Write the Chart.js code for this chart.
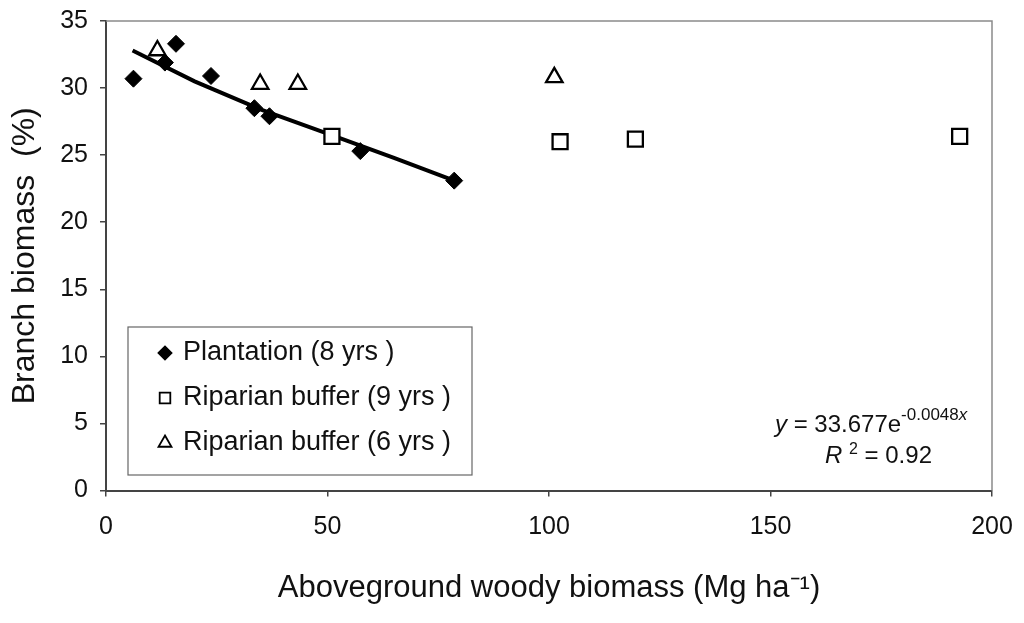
<!DOCTYPE html>
<html><head><meta charset="utf-8">
<script src="https://cdn.jsdelivr.net/npm/chart.js@4.4.0/dist/chart.umd.min.js"></script>
<style>
html,body{margin:0;padding:0;background:#fff;}
#wrap{position:relative;width:1024px;height:623px;overflow:hidden;}
canvas{display:block;}
.eq{position:absolute;font-family:"Liberation Sans",Arial,sans-serif;color:#111;white-space:nowrap;font-size:24px;line-height:24px;}
.eq sup{line-height:0;}
</style></head><body>
<div id="wrap"><canvas id="c" width="1024" height="623"></canvas>
<div class="eq" style="left:775px;top:412px;"><i>y</i> = 33.677e<sup style="font-size:17px;vertical-align:12px;">-0.0048<i>x</i></sup></div>
<div class="eq" style="left:825px;top:443px;"><i>R</i> <sup style="font-size:16px;vertical-align:9px;">2</sup> = 0.92</div>
</div>
<script>
// ---- data ----
const plantationX = [6.2, 13.3, 15.8, 23.7, 33.5, 36.9, 57.4, 78.6];
const plantationY = [30.7, 31.9, 33.3, 30.9, 28.5, 27.9, 25.3, 23.1];
const buffer9X = [51.0, 102.5, 119.5, 192.7];
const buffer9Y = [26.4, 26.0, 26.2, 26.4];
const buffer6X = [11.6, 34.8, 43.3, 101.2];
const buffer6Y = [32.8, 30.3, 30.3, 30.8];
const trendX = [6, 20, 35, 50, 65, 78.6];
const trendY = [32.8, 30.5, 28.4, 26.6, 24.8, 23.1];
const xTickValues = [0, 50, 100, 150, 200];
const yTickValues = [0, 5, 10, 15, 20, 25, 30, 35];
const seriesLabels = ['Plantation (8 yrs )', 'Riparian buffer (9 yrs )', 'Riparian buffer (6 yrs )'];
const xTitle = 'Aboveground woody biomass (Mg ha\u207B\u00B9)';
const yTitle = 'Branch biomass  (%)';

const pts = (xs, ys) => xs.map((x, i) => ({x: x, y: ys[i]}));
const FONT = "'Liberation Sans', Arial, sans-serif";

const frameAndLegend = {
  id: 'frameAndLegend',
  afterDraw(chart) {
    const {ctx, chartArea: a} = chart;
    ctx.save();
    ctx.strokeStyle = '#8a8a8a';
    ctx.lineWidth = 1.5;
    ctx.beginPath();
    ctx.moveTo(a.left, a.top);
    ctx.lineTo(a.right, a.top);
    ctx.lineTo(a.right, a.bottom);
    ctx.stroke();
    const bx = 128, by = 327, bw = 344, bh = 148;
    ctx.fillStyle = '#fff';
    ctx.fillRect(bx, by, bw, bh);
    ctx.strokeStyle = '#666';
    ctx.lineWidth = 1.2;
    ctx.strokeRect(bx, by, bw, bh);
    const rows = [353, 398, 443];
    const legendRadius = [6.5, 7.5, 7.5];
    chart.data.datasets.forEach((ds, i) => {
      if (i > 2) return;
      const y = rows[i];
      ctx.fillStyle = ds.backgroundColor;
      ctx.strokeStyle = ds.borderColor;
      ctx.lineWidth = 1.8;
      Chart.helpers.drawPoint(ctx, {pointStyle: ds.pointStyle, radius: legendRadius[i], borderWidth: 1.8}, 165, y);
      ctx.fillStyle = '#111';
      ctx.font = '27px ' + FONT;
      ctx.textBaseline = 'middle';
      ctx.textAlign = 'left';
      ctx.fillText(ds.label, 183, y);
    });
    ctx.restore();
  }
};

new Chart(document.getElementById('c'), {
  type: 'scatter',
  data: {
    datasets: [
      {label: seriesLabels[0], data: pts(plantationX, plantationY), pointStyle: 'rectRot', pointRadius: 8.5,
       backgroundColor: '#000', borderColor: '#000', borderWidth: 1, order: 1},
      {label: seriesLabels[1], data: pts(buffer9X, buffer9Y), pointStyle: 'rect', pointRadius: 10.6,
       backgroundColor: '#fff', borderColor: '#000', borderWidth: 2.3, order: 2},
      {label: seriesLabels[2], data: pts(buffer6X, buffer6Y), pointStyle: 'triangle', pointRadius: 9.5,
       backgroundColor: '#fff', borderColor: '#000', borderWidth: 2.3, order: 3},
      {label: 'trend', type: 'line', data: pts(trendX, trendY), showLine: true, pointRadius: 0,
       borderColor: '#000', borderWidth: 4, fill: false, tension: 0, order: 10}
    ]
  },
  options: {
    responsive: false,
    devicePixelRatio: 1,
    animation: false,
    layout: {padding: {left: 0, top: 21, right: 32, bottom: 0}},
    plugins: {legend: {display: false}, tooltip: {enabled: false}},
    scales: {
      x: {
        type: 'linear', min: 0, max: 200,
        afterFit: s => { s.height = 132.5; s.paddingLeft = 0; s.paddingRight = 0; },
        afterBuildTicks: s => { s.ticks = xTickValues.map(v => ({value: v})); },
        ticks: {font: {family: FONT, size: 25}, color: '#111', padding: 16},
        grid: {display: true, drawOnChartArea: false, drawTicks: true, tickLength: 6, color: '#444', lineWidth: 1.5},
        border: {display: true, color: '#444', width: 2},
        title: {display: true, text: xTitle, font: {family: FONT, size: 31}, color: '#111', padding: {top: 0, bottom: 16}}
      },
      y: {
        type: 'linear', min: 0, max: 35,
        afterFit: s => { s.width = 106; s.paddingTop = 0; s.paddingBottom = 0; },
        afterBuildTicks: s => { s.ticks = yTickValues.map(v => ({value: v})); },
        ticks: {font: {family: FONT, size: 25}, color: '#111', padding: 12},
        grid: {display: true, drawOnChartArea: false, drawTicks: true, tickLength: 6, color: '#444', lineWidth: 1.5},
        border: {display: true, color: '#444', width: 2},
        title: {display: true, text: yTitle, font: {family: FONT, size: 32}, color: '#111', padding: {top: 6, bottom: 0}}
      }
    }
  },
  plugins: [frameAndLegend]
});
</script>
</body></html>
